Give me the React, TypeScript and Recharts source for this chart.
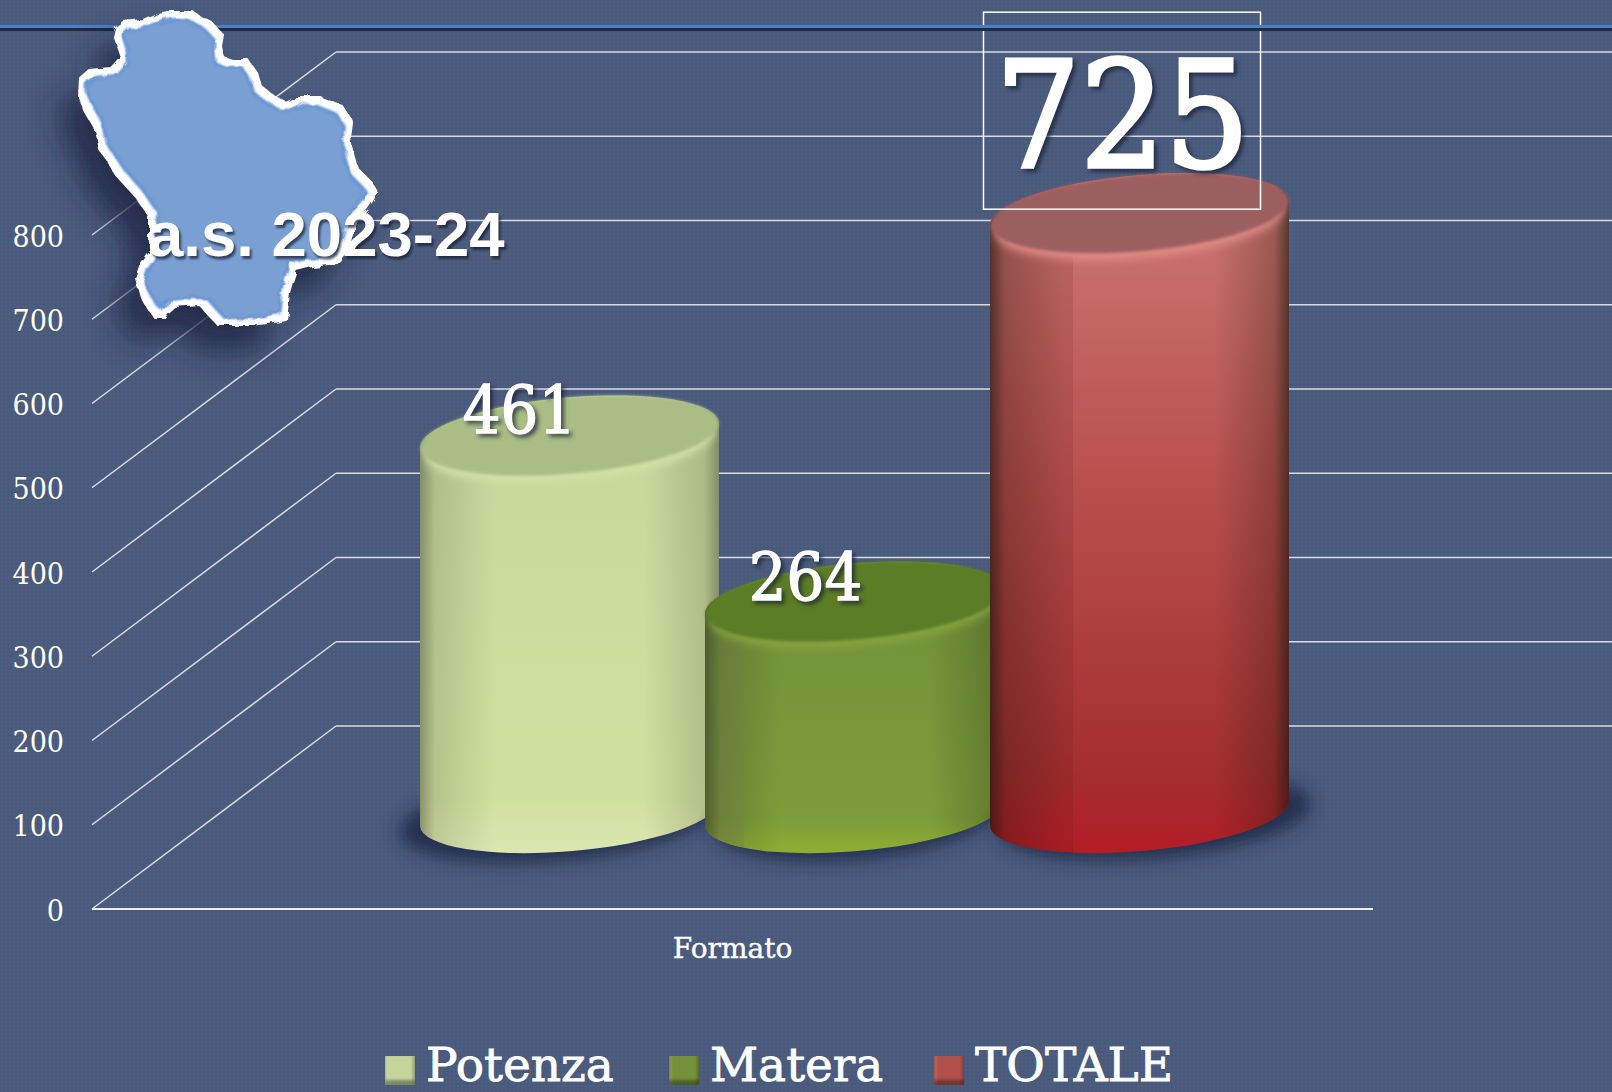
import { BarChart, Bar, XAxis, YAxis, Legend, LabelList, CartesianGrid } from 'recharts';

// values
const category = ['Formato'];
const potenza = [461];
const matera = [264];
const totale = [725];
const yTicks = [0, 100, 200, 300, 400, 500, 600, 700, 800];

const data = category.map((name, i) => ({
  name,
  Potenza: potenza[i],
  Matera: matera[i],
  TOTALE: totale[i],
}));

const W = 1612;
const H = 1092;
const FRONT_X = 92;
const BACK_DX = 244;
const BACK_DY = -183;
const DX = 122; // cylinders stand half way into the depth
const DY = -85;
const BASE_LIFT = 11;
const TILT = 5;
const RY = 38;
const SERIF = '"DejaVu Serif Condensed", "DejaVu Serif", serif';
const LEGEND_FONT = '"DejaVu Serif", serif';

const tones: Record<string, any> = {
  Potenza: {
    body: ['#c6d69c', '#cbdc9f', '#cfe09e', '#dde6b0'],
    top: '#a9bd85',
    rim: '#d2e2a6',
    seam: 0,
    seamFill: 'none',
    shadowDx: -14,
    shadowScale: 1,
    swatch: '#c3d59a',
    edge: 0.38,
    label: { dx: -50, dy: -25, size: 66, bold: 1.4 },
  },
  Matera: {
    body: ['#71903a', '#769639', '#7c9c39', '#8fae33'],
    top: '#5c7c28',
    rim: '#84a43e',
    seam: 39,
    seamFill: 'rgba(120,120,90,0.22)',
    shadowDx: 0,
    shadowScale: 0.9,
    swatch: '#75923a',
    edge: 0.5,
    label: { dx: -49, dy: -24, size: 66, bold: 1.4 },
  },
  TOTALE: {
    body: ['#cc7a74', '#b9504e', '#a32f2e', '#b51c26'],
    top: '#9c5f5e',
    rim: '#e08a86',
    seam: 83,
    seamFill: 'rgba(70,20,20,0.12)',
    shadowDx: 14,
    shadowScale: 1,
    swatch: '#b2504c',
    edge: 0.62,
    label: { dx: -17, dy: -97, size: 148, bold: 3.5, frame: true },
  },
};

const mapOutline =
  '116,28 123,22 143,20 157,14 168,12 193,12 203,18 211,22 223,35 221,46 223,57 232,60 248,60 257,73 261,86 275,97 286,103 296,98 321,98 343,107 350,118 352,123 350,138 352,150 357,168 371,182 377,193 368,207 357,220 347,250 337,263 312,266 296,270 292,282 289,293 286,320 268,323 250,325 218,325 207,313 200,305 175,307 164,317 154,317 141,297 136,278 141,263 150,250 150,217 136,197 118,177 100,150 96,130 86,113 79,97 80,78 89,70 111,68 121,57 114,37';

// floor diagonal plus back wall line, one per y tick
function WallLine({ y1 }: any) {
  return (
    <g>
      <line x1={FRONT_X} y1={y1} x2={FRONT_X + BACK_DX} y2={y1 + BACK_DY} stroke="#d9dbe0" strokeWidth={1.5} />
      <line x1={FRONT_X + BACK_DX} y1={y1 + BACK_DY} x2={W} y2={y1 + BACK_DY} stroke="#d9dbe0" strokeWidth={1.5} />
    </g>
  );
}

function AxisTick({ y, payload }: any) {
  return (
    <text x={64} y={y + 1} textAnchor="end" dominantBaseline="central" fill="#fff" fontSize={30} fontFamily={SERIF}>
      {payload.value}
    </text>
  );
}

function Cylinder({ x, y, width, height, tone }: any) {
  const t = tones[tone];
  const cx = x + width / 2 + DX;
  const topY = y + DY;
  const baseY = y + height + DY - BASE_LIFT;
  const rx = width / 2;
  const off = rx * Math.sin((TILT * Math.PI) / 180);
  const lx = cx - rx;
  const rgt = cx + rx;
  const path =
    `M${lx},${topY + off} L${lx},${baseY + off} A${rx},${RY} ${-TILT} 0 0 ${rgt},${baseY - off} ` +
    `L${rgt},${topY - off} A${rx},${RY} ${-TILT} 0 0 ${lx},${topY + off} Z`;
  const clipId = `seam-${tone}`;
  const bodyClip = `body-clip-${tone}`;
  return (
    <g>
      <ellipse
        cx={cx + t.shadowDx}
        cy={baseY + 5}
        rx={(rx + 8) * t.shadowScale}
        ry={RY + 3}
        transform={`rotate(${-TILT} ${cx} ${baseY})`}
        fill="#1b2644"
        opacity={0.85}
        filter="url(#soft)"
      />
      <clipPath id={bodyClip}>
        <path d={path} />
      </clipPath>
      <path d={path} fill={`url(#body-${tone})`} />
      <path d={path} fill={`url(#edge-${tone})`} />
      {t.seam > 0 && (
        <>
          <clipPath id={clipId}>
            <rect x={lx} y={0} width={t.seam} height={H} />
          </clipPath>
          <path d={path} fill={t.seamFill} clipPath={`url(#${clipId})`} />
        </>
      )}
      <g clipPath={`url(#${bodyClip})`}>
        <ellipse
          cx={cx}
          cy={topY + 7}
          rx={rx - 4}
          ry={RY}
          transform={`rotate(${-TILT} ${cx} ${topY + 7})`}
          fill={t.rim}
          filter="url(#softer)"
        />
      </g>
      <ellipse
        cx={cx}
        cy={topY}
        rx={rx}
        ry={RY}
        transform={`rotate(${-TILT} ${cx} ${topY})`}
        fill={t.top}
        filter="url(#edgeBlur)"
      />
    </g>
  );
}

function ValueLabel({ x, width, y, value, tone }: any) {
  const t = tones[tone].label;
  const cx = x + width / 2 + DX + t.dx;
  const cy = y + DY + t.dy;
  return (
    <g>
      {t.frame && (
        <rect x={cx - 139} y={cy - 104} width={277} height={197} fill="none" stroke="#fff" strokeWidth={1.5} />
      )}
      <text
        x={cx}
        y={cy}
        textAnchor="middle"
        dominantBaseline="central"
        fill="#fff"
        stroke="#fff"
        strokeWidth={t.bold}
        fontSize={t.size}
        fontFamily={SERIF}
        style={{ filter: 'drop-shadow(3px 3px 2px rgba(20,28,50,0.7))' }}
      >
        {value}
      </text>
    </g>
  );
}

const legendLefts = [385, 669, 934];

function LegendRow({ payload }: any) {
  return (
    <div>
      {(payload || []).map((item: any, i: number) => (
        <div key={item.value}>
          <div
            style={{
              position: 'absolute',
              left: legendLefts[i],
              top: 1056,
              width: 30,
              height: 29,
              boxSizing: 'border-box',
              background: tones[item.value].swatch,
              boxShadow: 'inset 0 -5px 3px rgba(0,0,0,0.35), inset 3px 0 2px rgba(255,255,255,0.12), inset -3px 0 2px rgba(0,0,0,0.12)',
            }}
          />
          <div
            style={{
              position: 'absolute',
              left: legendLefts[i] + 41,
              top: 1043,
              height: 44,
              fontFamily: LEGEND_FONT,
              fontSize: 47,
              lineHeight: '44px',
              color: '#fff',
              whiteSpace: 'nowrap',
              WebkitTextStroke: '0.8px #fff',
            }}
          >
            {item.value}
          </div>
        </div>
      ))}
    </div>
  );
}

const seriesNames = ['Potenza', 'Matera', 'TOTALE'];

export default function App() {
  return (
    <div
      style={{
        position: 'fixed',
        left: 0,
        top: 0,
        width: W,
        height: H,
        overflow: 'hidden',
        backgroundColor: '#495a7c',
        backgroundImage: 'radial-gradient(rgba(255,255,255,0.03) 1px, transparent 1.2px)',
        backgroundSize: '4px 4px',
      }}
    >
      <BarChart
        width={W}
        height={H}
        data={data}
        barSize={299}
        barGap={-14}
        margin={{ top: 235, right: 239, bottom: 123, left: 0 }}
      >
        <defs>
          <filter id="soft" x="-30%" y="-60%" width="160%" height="220%">
            <feGaussianBlur stdDeviation="9" />
          </filter>
          <filter id="softer" x="-10%" y="-20%" width="120%" height="140%">
            <feGaussianBlur stdDeviation="4" />
          </filter>
          <filter id="edgeBlur" x="-5%" y="-10%" width="110%" height="120%">
            <feGaussianBlur stdDeviation="1.5" />
          </filter>
          {seriesNames.map((s) => (
            <linearGradient key={s} id={`body-${s}`} x1="0" y1="0" x2="0" y2="1">
              <stop offset="0" stopColor={tones[s].body[0]} />
              <stop offset="0.45" stopColor={tones[s].body[1]} />
              <stop offset="0.88" stopColor={tones[s].body[2]} />
              <stop offset="1" stopColor={tones[s].body[3]} />
            </linearGradient>
          ))}
          {seriesNames.map((s) => (
            <linearGradient key={s} id={`edge-${s}`} x1="0" y1="0" x2="1" y2="0">
              <stop offset="0" stopColor="#10140c" stopOpacity={tones[s].edge} />
              <stop offset="0.05" stopColor="#10140c" stopOpacity={tones[s].edge * 0.35} />
              <stop offset="0.25" stopColor="#10140c" stopOpacity={0} />
              <stop offset="0.75" stopColor="#10140c" stopOpacity={0} />
              <stop offset="0.95" stopColor="#10140c" stopOpacity={tones[s].edge * 0.4} />
              <stop offset="1" stopColor="#10140c" stopOpacity={tones[s].edge} />
            </linearGradient>
          ))}
        </defs>
        <CartesianGrid vertical={false} horizontal={(p: any) => <WallLine key={p.key} {...p} />} />
        <YAxis
          domain={[0, 800]}
          ticks={yTicks}
          width={FRONT_X}
          interval={0}
          axisLine={false}
          tickLine={false}
          tick={<AxisTick />}
        />
        <XAxis
          dataKey="name"
          height={60}
          tickLine={false}
          axisLine={{ stroke: '#eceef2', strokeWidth: 2 }}
          tick={{ fill: '#fff', stroke: '#fff', strokeWidth: 0.4, fontSize: 28, fontFamily: LEGEND_FONT }}
          tickMargin={23}
        />
        <Legend
          verticalAlign="top"
          height={0}
          itemSorter={null}
          wrapperStyle={{ left: 0, top: 0, width: W, height: 0 }}
          content={<LegendRow />}
        />
        {seriesNames.map((s) => (
          <Bar
            key={s}
            dataKey={s}
            name={s}
            fill={tones[s].swatch}
            isAnimationActive={false}
            shape={(p: any) => <Cylinder {...p} tone={s} />}
          >
            <LabelList dataKey={s} content={(p: any) => <ValueLabel {...p} tone={s} />} />
          </Bar>
        ))}
      </BarChart>

      {/* top rule and the region badge sit over the chart */}
      <svg width={W} height={H} style={{ position: 'absolute', left: 0, top: 0, pointerEvents: 'none' }}>
        <defs>
          <filter id="mapShadow" x="-50%" y="-50%" width="200%" height="200%">
            <feGaussianBlur stdDeviation="16" />
          </filter>
          <filter id="rough" x="-10%" y="-10%" width="120%" height="120%">
            <feTurbulence type="fractalNoise" baseFrequency="0.09" numOctaves="2" seed="4" result="n" />
            <feDisplacementMap in="SourceGraphic" in2="n" scale="7" />
          </filter>
          <filter id="inset1" x="-10%" y="-10%" width="120%" height="120%">
            <feMorphology operator="erode" radius="6" />
            <feGaussianBlur stdDeviation="1.2" />
          </filter>
          <filter id="inset2" x="-10%" y="-10%" width="120%" height="120%">
            <feMorphology operator="erode" radius="8" />
            <feGaussianBlur stdDeviation="1.5" />
          </filter>
        </defs>
        <rect x={0} y={25} width={W} height={3} fill="#4a80c8" />
        <rect x={0} y={28} width={W} height={3} fill="#1f2a44" />
        <polygon points={mapOutline} transform="translate(-20,26)" fill="#1a2440" opacity={0.8} filter="url(#mapShadow)" />
        <g filter="url(#rough)">
          <polygon points={mapOutline} fill="#ffffff" stroke="#ffffff" strokeWidth={2} strokeLinejoin="round" />
          <polygon points={mapOutline} fill="#5d8fd6" filter="url(#inset1)" />
          <polygon points={mapOutline} fill="#7a9fd2" filter="url(#inset2)" />
        </g>
        <text
          x={148}
          y={256}
          fill="#fff"
          fontSize={63.5}
          fontWeight="bold"
          fontFamily='"Liberation Sans", sans-serif'
          style={{ filter: 'drop-shadow(2px 3px 1px rgba(20,28,50,0.7))' }}
        >
          a.s. 2023-24
        </text>
      </svg>
    </div>
  );
}
